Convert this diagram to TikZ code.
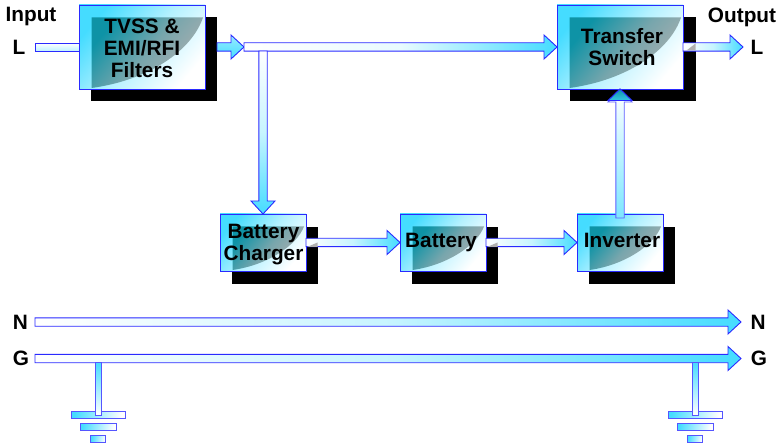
\documentclass[tikz,border=0pt]{standalone}
\usepackage{fontspec}
\setmainfont{Liberation Sans}
\usetikzlibrary{calc}
\definecolor{edge}{HTML}{2A2AFF}
\definecolor{cy}{HTML}{45DCFF}
\definecolor{teal1}{HTML}{0E93A6}
\definecolor{gray1}{HTML}{B0B0B0}
\colorlet{palecy}{cy!12!white}
\tikzset{
  x=1pt,y=-1pt,
  lbl/.style={inner sep=0pt,font=\fontsize{20.8}{22}\selectfont\bfseries,align=center},
  shadowbox/.style={fill=black,inner sep=0pt,outer sep=0pt},
  curves/.code 2 args={\def\cvA{#1}\def\cvB{#2}},
  unit/.style={draw=edge,line width=.9pt,inner sep=0pt,outer sep=0pt,align=center,
    font=\fontsize{20.8}{22}\selectfont\bfseries,
    path picture={
      \shade[top color=cy,bottom color=white,middle color=cy!40!white,shading angle=50]
        (path picture bounding box.north west) rectangle (path picture bounding box.south east);
      \shade[top color=teal1,bottom color=gray1,middle color=teal1!35!gray1,shading angle=50]
        ($(path picture bounding box.north west)+(12.5,12.5)$)
        -- ($(path picture bounding box.north east)+(-2,12.5)$)
        .. controls ($(path picture bounding box.north east)+(\cvA)$) and ($(path picture bounding box.south west)+(\cvB)$) ..
        ($(path picture bounding box.south west)+(12.5,-1)$) -- cycle;
    }},
  bigunit/.style={unit,minimum width=126pt,minimum height=84pt,curves={-13,45}{71,-9}},
  smallunit/.style={unit,minimum width=86pt,minimum height=57pt,curves={-9,31}{48,-6}},
  bigshadow/.style={shadowbox,minimum width=126pt,minimum height=84pt},
  smallshadow/.style={shadowbox,minimum width=86pt,minimum height=57pt},
  blockbase/.style={draw=edge,line width=.9pt,line join=miter,top color=white,bottom color=cy,middle color=cy!30!white},
  blockarrow/.style={blockbase,
    to path={let \p1=($(\tikztotarget)!13pt!(\tikztostart)$) in
      ($(\tikztostart)!4.2pt!90:(\tikztotarget)$)
      -- ($(\p1)!4.2pt!-90:(\tikztostart)$)
      -- ($(\p1)!12pt!-90:(\tikztostart)$)
      -- (\tikztotarget)
      -- ($(\p1)!12pt!90:(\tikztostart)$)
      -- ($(\p1)!4.2pt!90:(\tikztostart)$)
      -- ($(\tikztostart)!4.2pt!-90:(\tikztotarget)$)
      -- cycle}},
  blockbar/.style={blockbase,
    to path={($(\tikztostart)!#1!90:(\tikztotarget)$)
      -- ($(\tikztotarget)!#1!-90:(\tikztostart)$)
      -- ($(\tikztotarget)!#1!90:(\tikztostart)$)
      -- ($(\tikztostart)!#1!-90:(\tikztotarget)$)
      -- cycle}},
  groundbar/.style={draw=edge!80!white,line width=.9pt,inner sep=0pt,outer sep=0pt,minimum height=6.5pt,
    left color=cy,right color=white,shading angle=80},
}
\begin{document}
\begin{tikzpicture}
\useasboundingbox (0,0) rectangle (781,446);
% shadows
\node[bigshadow] (tvssS) at (154,59) {};
\node[bigshadow] (xferS) at (632.5,59) {};
\node[smallshadow] (chgS) at (275,255.5) {};
\node[smallshadow] (batS) at (455,255.5) {};
\node[smallshadow] (invS) at (632,255.5) {};
% units
\node[bigunit] (tvss) at (142,47) {\rule{0pt}{18pt}TVSS \&\\EMI/RFI\\Filters};
\node[bigunit] (xfer) at (620,47) {\rule{0pt}{16pt}\hspace*{4pt}Transfer\\\hspace*{4pt}Switch};
\node[smallunit] (chg) at (263,242.5) {\rule{0pt}{19pt}\hspace*{1pt}Battery\\\hspace*{1pt}Charger};
\node[smallunit] (bat) at (443,242.5) {\hspace*{-4pt}Battery};
\node[smallunit] (inv) at (620,242.5) {\rule[-4pt]{0pt}{4pt}\hspace*{4pt}Inverter};
% free ends
\coordinate (inL) at (35,47);
\coordinate (outT) at (743,47);
\coordinate (fork) at (244,47);
\coordinate (drop) at (263,51);
\coordinate (nA) at (35,322);
\coordinate (nB) at (741,322);
\coordinate (gA) at (35,358.5);
\coordinate (gB) at (741,358.5);
% labels
\node[lbl] (input) at (31,17) {Input};
\node[lbl] (lL) at (19,47) {L};
\node[lbl] (output) at (742,17) {Output};
\node[lbl] (lR) at (757,47) {L};
\node[lbl] (nL) at (20.5,322) {N};
\node[lbl] (gL) at (21,358.5) {G};
\node[lbl] (nR) at (758,322) {N};
\node[lbl] (gR) at (759,358.5) {G};
% connectors
\draw[blockbar=4pt,shading angle=90,top color=white,bottom color=cy!35!white] (inL) to (tvss.west);
\draw[blockarrow,shading angle=90,top color=cy!55!white,bottom color=cy] (tvssS.east |- tvss.east) to (fork);
\draw[blockarrow,top color=white,bottom color=cy,middle color=palecy,shading angle=90] (fork) to (xfer.west);
\draw[blockarrow,shading angle=0] (drop) to (chg.north);
\draw[blockarrow,shading angle=90] (chg.east) to (bat.west);
\draw[blockarrow,shading angle=90] (bat.east) to (inv.west);
\draw[blockarrow,shading angle=180,draw=edge!75!white,top color=white,bottom color=cy!70!white] ($(inv.north)+(0,4)$) to (xfer.south);
\draw[blockarrow,shading angle=90] (xfer.east) to (outT);
\draw[blockarrow,shading angle=90] (nA) to (nB);
\draw[blockarrow,shading angle=90] (gA) to (gB);
% overlaps on the shadows
\fill[gray1] (307,247) -- (317.5,247) -- (317.5,242.5) -- cycle;
\fill[gray1] (487,247) -- (497.5,247) -- (497.5,242.5) -- cycle;
\fill[gray1] (686.5,50.5) -- (695.5,50.5) -- (695.5,43.5) -- cycle;
\shade[draw=edge,line width=.9pt,top color=teal1,bottom color=cy!70!teal1] (xfer.south) -- (632,100.5) -- (608,100.5) -- cycle;
% ground left
\node[groundbar,minimum width=54pt] (gl1) at (98,415) {};
\node[groundbar,minimum width=36pt] (gl2) at (98,427) {};
\node[groundbar,minimum width=15pt] (gl3) at (98,439) {};
\coordinate (glTop) at (98,362);
\draw[blockbar=3pt,draw=edge!80!white,top color=cy,bottom color=white,middle color=cy!50!white,shading angle=0] (glTop) to (gl1.center);
% ground right
\node[groundbar,minimum width=54pt] (gr1) at (695,415) {};
\node[groundbar,minimum width=36pt] (gr2) at (695,427) {};
\node[groundbar,minimum width=15pt] (gr3) at (695,439) {};
\coordinate (grTop) at (695,362);
\draw[blockbar=3pt,draw=edge!80!white,top color=cy,bottom color=white,middle color=cy!50!white,shading angle=0] (grTop) to (gr1.center);
\end{tikzpicture}
\end{document}
